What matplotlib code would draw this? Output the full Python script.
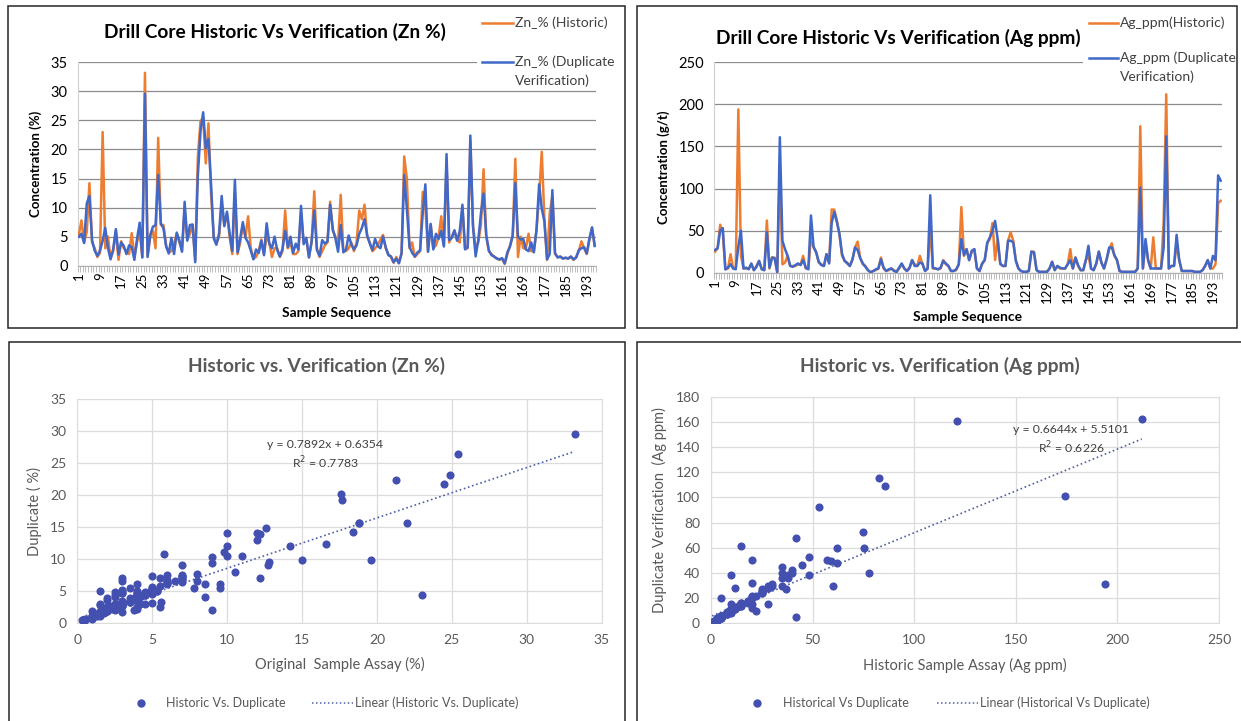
import numpy as np
import matplotlib
matplotlib.use("Agg")
import matplotlib.pyplot as plt
from matplotlib.lines import Line2D
from matplotlib.patches import Rectangle

plt.rcParams["font.family"] = ["Lato", "DejaVu Sans"]

# Zn % per sample, 196 drill core samples
ZN_HIST = [
    5.3, 7.8, 4.0, 5.8, 14.2, 4.0, 3.0, 1.5,
    2.2, 23.0, 3.0, 5.0, 1.3, 2.5, 6.0, 1.0,
    4.2, 3.0, 2.5, 2.0, 5.6, 1.5, 4.0, 6.0,
    1.5, 33.2, 1.8, 5.0, 6.0, 3.0, 22.0, 7.0,
    7.0, 3.5, 2.3, 2.5, 3.8, 5.5, 4.0, 2.6,
    9.8, 4.5, 5.5, 7.0, 1.0, 18.8, 24.9, 25.4,
    17.6, 24.5, 12.2, 5.0, 3.8, 5.0, 10.0, 7.0,
    9.0, 5.0, 2.0, 12.6, 2.0, 4.0, 7.0, 5.0,
    8.5, 3.0, 1.2, 1.5, 2.5, 4.5, 2.0, 5.0,
    4.0, 1.5, 3.0, 3.0, 1.5, 2.5, 9.5, 3.0,
    4.0, 2.0, 2.0, 2.5, 9.0, 4.0, 4.5, 1.5,
    4.0, 12.8, 3.0, 1.5, 2.5, 3.5, 4.0, 11.0,
    6.0, 5.0, 4.0, 12.2, 2.5, 2.5, 3.0, 4.0,
    2.5, 4.0, 9.5, 8.0, 10.5, 5.0, 4.0, 2.5,
    3.0, 3.5, 4.5, 5.3, 3.0, 2.0, 1.5, 0.5,
    1.5, 0.5, 2.0, 18.8, 15.0, 3.0, 4.0, 1.5,
    2.0, 2.5, 12.7, 10.0, 2.5, 7.0, 3.0, 3.5,
    5.0, 8.5, 3.5, 17.7, 4.0, 5.0, 6.0, 4.5,
    4.0, 10.0, 3.0, 3.0, 21.3, 7.0, 3.0, 4.0,
    7.0, 16.6, 5.0, 2.5, 2.0, 1.5, 1.3, 1.0,
    1.2, 0.3, 2.0, 3.5, 5.0, 18.4, 1.5, 5.0,
    3.0, 3.0, 5.5, 2.5, 2.5, 6.0, 12.0, 19.6,
    8.0, 1.0, 9.0, 12.0, 2.0, 1.5, 1.5, 1.3,
    1.3, 1.3, 1.5, 1.0, 1.5, 2.5, 4.2, 3.0,
    2.0, 4.5, 6.5, 3.5,
]
ZN_DUP = [
    5.0, 5.5, 3.9, 10.7, 12.0, 4.4, 2.6, 1.7,
    2.6, 4.3, 6.5, 3.1, 1.1, 2.9, 6.3, 1.9,
    4.0, 3.4, 2.0, 3.5, 3.2, 1.0, 4.6, 7.4,
    1.4, 29.6, 1.5, 5.3, 6.7, 7.0, 15.6, 7.3,
    6.4, 3.3, 2.1, 4.8, 2.0, 5.7, 4.4, 2.4,
    11.0, 4.3, 7.0, 7.1, 0.6, 15.6, 23.1, 26.4,
    20.2, 21.8, 13.9, 4.7, 3.6, 5.5, 12.0, 6.8,
    9.3, 5.6, 2.5, 14.8, 2.3, 4.7, 7.5, 4.8,
    4.0, 2.6, 1.1, 2.8, 2.2, 4.3, 1.8, 7.3,
    3.8, 3.0, 5.0, 2.7, 1.6, 2.9, 6.0, 3.2,
    5.0, 2.2, 3.8, 2.8, 10.3, 3.7, 4.8, 1.4,
    4.2, 9.5, 2.7, 1.7, 4.4, 3.8, 4.2, 10.5,
    6.3, 4.7, 2.4, 7.0, 2.3, 2.8, 5.2, 3.7,
    2.8, 3.5, 5.5, 6.5, 8.0, 5.2, 3.8, 2.7,
    4.6, 3.4, 3.0, 5.0, 3.2, 1.8, 1.6, 0.6,
    1.2, 0.4, 2.2, 15.6, 9.8, 3.3, 2.2, 1.6,
    2.3, 2.6, 9.0, 14.0, 2.4, 7.2, 2.8, 5.5,
    4.6, 6.0, 3.3, 19.2, 4.4, 4.8, 6.1, 4.3,
    6.0, 10.5, 2.8, 3.2, 22.4, 6.7, 1.6, 4.4,
    9.0, 12.4, 5.3, 2.6, 1.8, 1.6, 1.2, 1.1,
    1.3, 0.4, 2.3, 3.3, 5.2, 14.2, 5.0, 4.5,
    4.6, 2.8, 2.5, 4.0, 2.3, 6.2, 14.0, 9.8,
    7.6, 1.1, 2.0, 13.0, 2.2, 1.4, 1.6, 1.2,
    1.4, 1.2, 1.6, 1.1, 1.4, 2.7, 3.0, 3.2,
    2.1, 4.6, 6.6, 3.4,
]

# Ag ppm per sample
AG_HIST = [
    25, 29, 57, 48, 4, 5, 22, 5,
    5, 194, 20, 5, 5, 5, 10, 3,
    8, 14, 5, 3, 62, 5, 18, 18,
    1, 121, 10, 12, 20, 8, 8, 8,
    10, 10, 20, 5, 5, 42, 30, 25,
    12, 10, 8, 22, 12, 75.1, 74.8, 62,
    45, 20, 14, 12, 8, 15, 30, 37,
    18, 10, 8, 3, 0.5, 2, 3, 5,
    18, 5, 2, 3, 5, 3, 1, 5,
    10, 5, 2, 5, 15, 10, 8, 20,
    10, 2, 5, 53, 5, 5, 4, 5,
    15, 10, 8, 2, 2, 3, 10, 78,
    20, 28, 15, 25, 28, 5, 2, 10,
    15, 35, 40, 59, 15, 40, 10, 8,
    8, 38, 48, 38, 15, 5, 2, 1,
    1, 2, 25, 25, 3, 1, 1, 1,
    1, 5, 13, 3, 8, 5, 5, 5,
    10, 28, 5, 18, 8, 3, 3, 15,
    20, 5, 3, 10, 25, 12, 5, 15,
    28, 35, 20, 15, 2, 1, 1, 1,
    1, 1, 1, 5, 174, 5, 35, 15,
    5, 42, 5, 5, 5, 60, 212, 5,
    8, 8, 35, 15, 2, 2, 2, 2,
    2, 1, 1, 1, 3, 8, 15, 5,
    5, 10, 82.6, 85.5,
]
AG_DUP = [
    27, 29, 50, 53, 4, 6, 10, 5,
    4, 31, 50, 5, 6, 4, 11, 3,
    7, 14, 4, 3, 48, 6, 18, 17,
    0.5, 161, 38, 28, 20, 8, 7, 9,
    11, 9, 15, 6, 4, 68, 31, 24,
    13, 9, 8, 22, 11, 59.5, 72.2, 60,
    46, 22, 14, 11, 8, 16, 30, 27,
    17, 11, 7, 3, 0.5, 2, 4, 5,
    16, 6, 2, 4, 5, 2, 1, 6,
    11, 5, 2, 6, 15, 8, 8, 12,
    11, 2, 5, 92, 6, 5, 4, 6,
    14, 11, 8, 2, 2, 4, 10, 40,
    21, 28, 15, 26, 28, 5, 2, 11,
    15, 36, 42, 49.5, 61.6, 40, 11, 8,
    8, 38, 38, 36, 14, 5, 2, 1,
    1, 2, 25, 24, 3, 1, 1, 1,
    1, 5, 13, 3, 8, 6, 5, 5,
    10, 15, 5, 18, 9, 3, 3, 15,
    32, 5, 3, 11, 25, 12, 5, 16,
    30, 30, 21, 15, 2, 1, 1, 1,
    1, 1, 1, 5, 101, 5, 40, 15,
    5, 5, 5, 5, 5, 30, 162, 5,
    8, 8, 45, 15, 2, 2, 2, 2,
    2, 1, 1, 1, 3, 8, 15, 5,
    20, 15, 115.6, 109.3,
]

# Excel trendline results shown on the scatter charts
ZN_FIT = (0.7892, 0.6354, 0.7783)
AG_FIT = (0.6644, 5.5101, 0.6226)

ORANGE = "#ED7D31"
BLUE = "#4068C8"
DOT = "#4450B0"
TREND = "#5060A8"
GREY_TXT = "#595959"

W, H = 1241, 721
fig = plt.figure(figsize=(W / 100, H / 100), dpi=100)


def box(x0, y0, x1, y1):
    return [x0 / W, 1 - y1 / H, (x1 - x0) / W, (y1 - y0) / H]


def fx(x):
    return x / W


def fy(y):
    return 1 - y / H


def frame(x0, y0, x1, y1):
    fig.add_artist(Rectangle((fx(x0), fy(y1)), (x1 - x0) / W, (y1 - y0) / H,
                             transform=fig.transFigure, fill=False,
                             ec="#262626", lw=1.1, zorder=5))


def series_chart(rect, hist, dup, ymax, ystep, ylabel):
    ax = fig.add_axes(box(*rect))
    n = len(hist)
    x = np.arange(1, n + 1)
    ax.plot(x, hist, color=ORANGE, lw=1.8, zorder=3)
    ax.plot(x, dup, color=BLUE, lw=1.8, zorder=4)
    ax.set_xlim(0.5, n + 0.5)
    ax.set_ylim(0, ymax)
    ax.set_yticks(np.arange(0, ymax + 1, ystep))
    ax.set_xticks(np.arange(1, n + 1, 8))
    ax.set_xticks(np.arange(0.5, n + 1, 1), minor=True)
    ax.tick_params(axis="x", which="major", length=0, labelrotation=90,
                   labelsize=9.5, pad=5)
    ax.tick_params(axis="x", which="minor", length=4, color="#b0b0b0", width=0.6)
    ax.tick_params(axis="y", length=0, labelsize=10.5, pad=7)
    ax.yaxis.grid(True, color="#8c8c8c", lw=0.9)
    ax.set_axisbelow(True)
    for s in ("top", "right"):
        ax.spines[s].set_visible(False)
    ax.spines["left"].set_color("#d0d0d0")
    ax.spines["bottom"].set_color("#b0b0b0")
    ax.set_ylabel(ylabel, fontsize=9.5, fontweight="bold", labelpad=6)
    return ax


def scatter_chart(rect, hist, dup, xmax, xstep, ymax, ystep, fit, xlabel, ylabel):
    ax = fig.add_axes(box(*rect))
    ax.scatter(hist, dup, s=34, color=DOT, linewidths=0, zorder=3)
    slope, icpt, _ = fit
    xs = np.array([min(hist), max(hist)])
    ax.plot(xs, slope * xs + icpt, color=TREND, lw=1.2, ls=(0, (1, 1.6)), zorder=2)
    ax.set_xlim(0, xmax)
    ax.set_ylim(0, ymax)
    ax.set_xticks(np.arange(0, xmax + 1, xstep))
    ax.set_yticks(np.arange(0, ymax + 1, ystep))
    ax.grid(True, color="#dcdcdc", lw=0.9)
    ax.set_axisbelow(True)
    for s in ax.spines.values():
        s.set_color("#dcdcdc")
    ax.tick_params(length=0, labelsize=10, labelcolor=GREY_TXT, pad=8)
    ax.set_xlabel(xlabel, fontsize=10.5, color=GREY_TXT, labelpad=8)
    ax.set_ylabel(ylabel, fontsize=10.5, color=GREY_TXT, labelpad=6)
    return ax


# ---- top row: sample sequence series ----
frame(8, 6, 625, 328)
frame(637, 6, 1237, 328)

series_chart((77.5, 62.3, 596, 265.7), ZN_HIST, ZN_DUP, 35, 5, "Concentration (%)")
series_chart((713.7, 62.3, 1222, 272.7), AG_HIST, AG_DUP, 250, 50, "Concentration (g/t)")

fig.text(fx(275), fy(32), "Drill Core Historic Vs Verification (Zn %)",
         ha="center", va="center", fontsize=13.8, fontweight="bold")
fig.text(fx(898), fy(38), "Drill Core Historic Vs Verification (Ag ppm)",
         ha="center", va="center", fontsize=13.8, fontweight="bold")
fig.text(fx(337), fy(313), "Sample Sequence", ha="center", va="center",
         fontsize=10, fontweight="bold")
fig.text(fx(968), fy(317), "Sample Sequence", ha="center", va="center",
         fontsize=10, fontweight="bold")

# legends sit over the top gridline on a white patch
for x0, y0, x1, y1 in ((477, 10, 622, 88), (1083, 10, 1234, 86)):
    fig.add_artist(Rectangle((fx(x0), fy(y1)), (x1 - x0) / W, (y1 - y0) / H,
                             transform=fig.transFigure, fc="white", ec="none", zorder=1))


def legend_line(x0, x1, y, color, label):
    fig.add_artist(Line2D([fx(x0), fx(x1)], [fy(y), fy(y)], transform=fig.transFigure,
                          color=color, lw=1.8, zorder=2))
    fig.text(fx(x1 + 2), fy(y), label, ha="left", va="center", fontsize=10,
             color="#404040")


legend_line(482, 513, 23, ORANGE, "Zn_% (Historic)")
legend_line(482, 513, 62, BLUE, "Zn_% (Duplicate")
fig.text(fx(515), fy(80.5), "Verification)", ha="left", va="center", fontsize=10,
         color="#404040")
legend_line(1089, 1118, 23, ORANGE, "Ag_ppm(Historic)")
legend_line(1089, 1118, 58, BLUE, "Ag_ppm (Duplicate")
fig.text(fx(1120), fy(76.5), "Verification)", ha="left", va="center", fontsize=10,
         color="#404040")

# ---- bottom row: historic vs duplicate scatter ----
frame(9, 342, 625, 730)
frame(637, 342, 1250, 730)

scatter_chart((77.3, 399.3, 601.7, 622.7), ZN_HIST, ZN_DUP, 35, 5, 35, 5, ZN_FIT,
              "Original  Sample Assay (%)", "Duplicate ( %)")
scatter_chart((711, 396.7, 1219, 623.3), AG_HIST, AG_DUP, 250, 50, 180, 20, AG_FIT,
              "Historic Sample Assay (Ag ppm)", "Duplicate Verification  (Ag ppm)")

fig.text(fx(317), fy(366), "Historic vs. Verification (Zn %)", ha="center", va="center",
         fontsize=13.8, fontweight="bold", color=GREY_TXT)
fig.text(fx(940), fy(366), "Historic vs. Verification (Ag ppm)", ha="center", va="center",
         fontsize=13.8, fontweight="bold", color=GREY_TXT)

for (cx, cy), fit in (((325, 455), ZN_FIT), ((1071, 440), AG_FIT)):
    fig.text(fx(cx), fy(cy), f"y = {fit[0]:.4f}x + {fit[1]:.4f}\nR$^2$ = {fit[2]:.4f}",
             ha="center", va="center", fontsize=8.8, color="#404040", linespacing=1.3)


def scatter_legend(mx, tx, lx0, lx1, label, trend_label, y=703):
    fig.add_artist(Line2D([fx(mx)], [fy(y)], transform=fig.transFigure, marker="o",
                          ms=5, color=DOT, ls="none"))
    fig.text(fx(tx), fy(y), label, ha="left", va="center", fontsize=9, color=GREY_TXT)
    fig.add_artist(Line2D([fx(lx0), fx(lx1)], [fy(y), fy(y)], transform=fig.transFigure,
                          color=TREND, lw=1.1, ls=(0, (1, 1.6))))
    fig.text(fx(lx1 + 2), fy(y), trend_label, ha="left", va="center", fontsize=9,
             color=GREY_TXT)


scatter_legend(141, 166, 312, 353, "Historic Vs. Duplicate",
               "Linear (Historic Vs. Duplicate)")
scatter_legend(757, 783, 937, 978, "Historical Vs Duplicate",
               "Linear (Historical Vs Duplicate)")

fig.savefig("out.png", dpi=100)
